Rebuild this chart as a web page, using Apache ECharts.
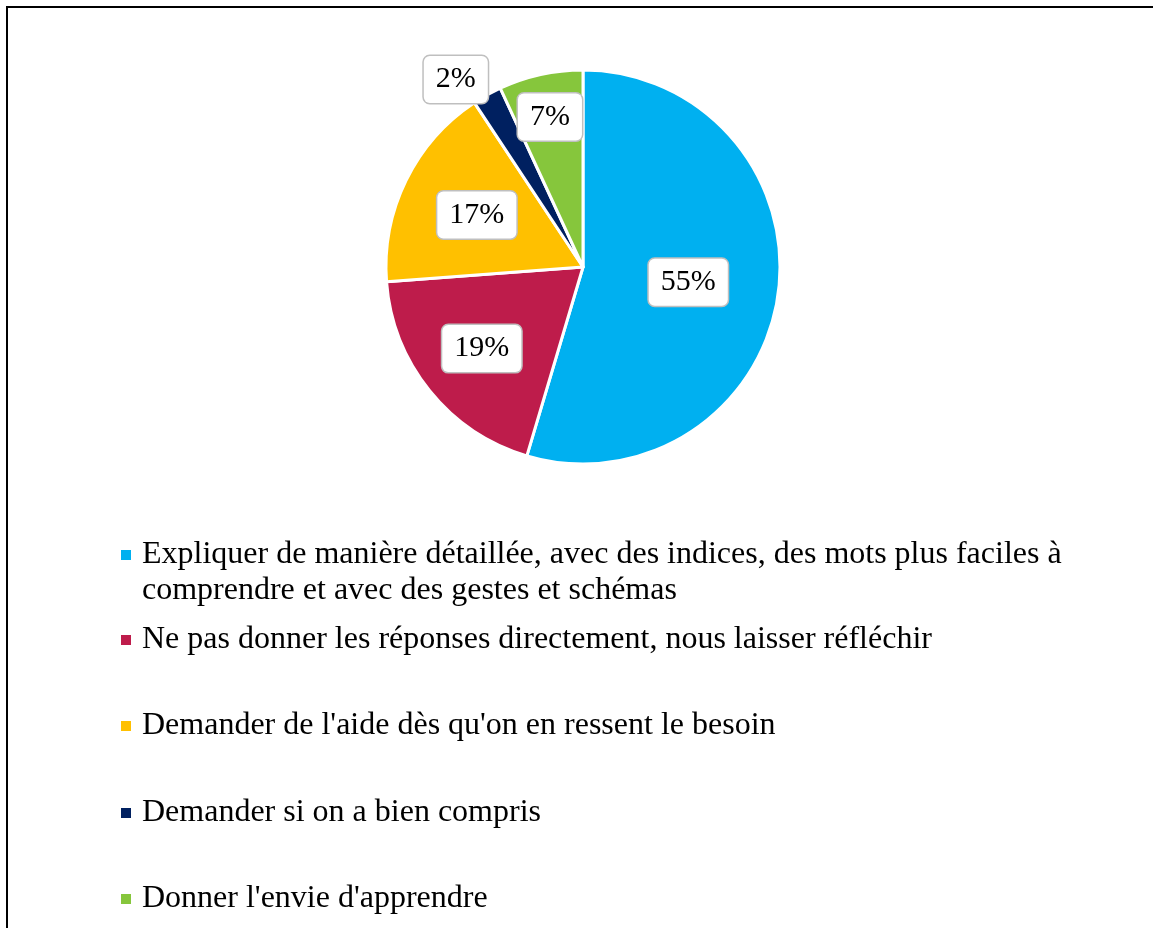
<!DOCTYPE html>
<html>
<head>
<meta charset="utf-8">
<script src="https://cdn.jsdelivr.net/npm/echarts@6/dist/echarts.min.js"></script>
<style>
  html, body { margin: 0; padding: 0; background: #fff; }
  #chart { width: 1153px; height: 928px; }
</style>
</head>
<body>
<div id="chart"></div>
<script>
// categories and shares (in %)
const categories = [
    "Expliquer de manière détaillée, avec des indices, des mots plus faciles à comprendre et avec des gestes et schémas",
    "Ne pas donner les réponses directement, nous laisser réfléchir",
    "Demander de l'aide dès qu'on en ressent le besoin",
    "Demander si on a bien compris",
    "Donner l'envie d'apprendre"
]
const shares = [54.6, 19.2, 16.9, 2.4, 6.9]
const colors = ["#00B0F0", "#BE1C4B", "#FFC000", "#002060", "#86C63C"]
// where each label sits: fraction of radius, and angle nudge in degrees
const labelRadius = [0.54, 0.66, 0.6, 1.15, 0.78]
const labelTurn = [0, 0, 0, -5, 0]

const FONT = "'Liberation Serif', 'Times New Roman', serif"
const cx = 583, cy = 267, R = 197

let myChart = echarts.init(document.getElementById("chart"))

// one legend per entry so they are evenly spaced like the original
const legendTops = [501, 622, 708, 795, 881]
let legends = categories.map((name, i) => ({
    data: [name],
    left: 119,
    top: legendTops[i],
    padding: 0,
    itemWidth: 12,
    itemHeight: 12,
    icon: "rect",
    selectedMode: false,
    // first entry wraps; a blank line on top keeps the marker on the first line
    formatter: n => i === 0
        ? " \nExpliquer de manière détaillée, avec des indices, des mots plus faciles à\ncomprendre et avec des gestes et schémas"
        : n,
    textStyle: {
        fontFamily: FONT,
        fontSize: 32,
        color: "#000",
        lineHeight: 36,
        padding: [0, 0, 0, 5]
    }
}))

let option = {
    animation: false,
    backgroundColor: "#fff",
    color: colors,
    graphic: [{
        type: "rect",
        shape: {x: 7, y: 7, width: 2000, height: 2000},
        style: {fill: "none", stroke: "#000", lineWidth: 2},
        silent: true
    }],
    legend: legends,
    series: [{
        type: "pie",
        center: [cx, cy],
        radius: R,
        startAngle: 90,
        clockwise: true,
        avoidLabelOverlap: false,
        itemStyle: {borderColor: "#fff", borderWidth: 3},
        label: {
            show: true,
            position: "inside",
            formatter: p => Math.round(p.percent) + "%",
            fontFamily: FONT,
            fontSize: 30,
            color: "#000",
            backgroundColor: "#fff",
            borderColor: "#BFBFBF",
            borderWidth: 1.5,
            borderRadius: 6,
            padding: [9, 12, 8, 12]
        },
        labelLine: {show: false},
        labelLayout: params => {
            let r = params.labelRect
            let mx = r.x + r.width / 2 - cx
            let my = r.y + r.height / 2 - cy
            let ang = Math.atan2(mx, -my) + labelTurn[params.dataIndex] * Math.PI / 180
            let dist = labelRadius[params.dataIndex] * R
            return {x: cx + Math.sin(ang) * dist, y: cy - Math.cos(ang) * dist}
        },
        data: categories.map((name, i) => ({name, value: shares[i]}))
    }]
}

myChart.setOption(option)
</script>
</body>
</html>
